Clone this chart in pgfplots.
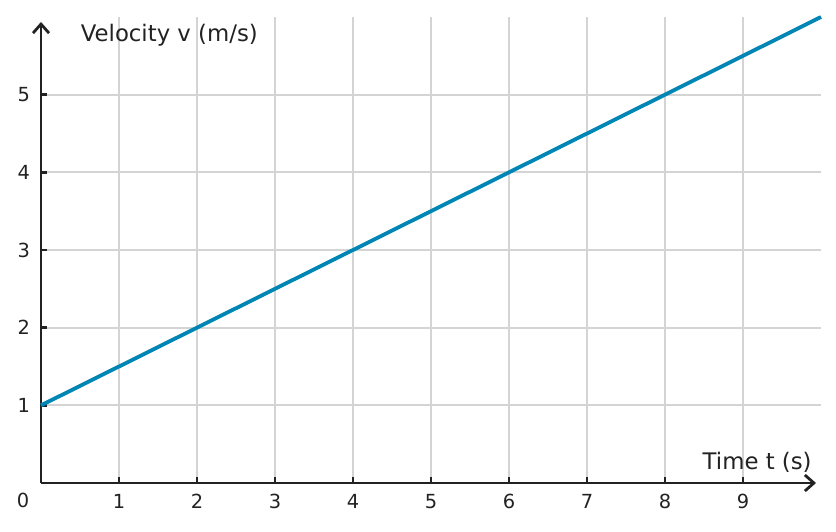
\documentclass[border=0pt]{standalone}
\usepackage{fontspec}
\setmainfont{DejaVu Sans}
\usepackage{pgfplots}
\pgfplotsset{compat=1.18}
\usetikzlibrary{arrows.meta}
\definecolor{lineblue}{RGB}{0,134,181}
\definecolor{gridgray}{RGB}{212,212,212}
\definecolor{axisdark}{RGB}{34,34,34}
\begin{document}
\begin{tikzpicture}
\useasboundingbox (-20.5bp,-24.5bp) rectangle (397.5bp,241.5bp);
\begin{axis}[
  at={(0,0)}, anchor=origin,
  scale only axis, width=390bp, height=233bp,
  xmin=0, xmax=10, ymin=0, ymax=6,
  axis lines=left,
  axis line style={axisdark, line width=1.3bp, shorten >=2.5bp, -{Straight Barb[length=4.5bp,width=8bp,line width=1.4bp]}},
  xtick={1,...,9}, ytick={1,...,5},
  grid=major,
  major grid style={gridgray, line width=0.9bp},
  tick align=inside,
  major tick length=3bp,
  tick style={axisdark, line width=1.2bp},
  every tick label/.append style={font=\fontsize{9.7bp}{11bp}\selectfont, text=axisdark},
  /pgf/number format/assume math mode=true,
  xticklabel style={yshift=-2bp},
  yticklabel style={xshift=-2bp},
  clip=false,
]
\addplot[lineblue, line width=1.9bp] coordinates {(0,1) (10,6)};
\node[anchor=west, font=\fontsize{11.4bp}{13bp}\selectfont, text=axisdark] at (axis cs:0.42,5.77) {Velocity v (m/s)};
\node[anchor=east, font=\fontsize{11.4bp}{13bp}\selectfont, text=axisdark] at (axis cs:9.97,0.27) {Time t (s)};
\node[font=\fontsize{9.7bp}{11bp}\selectfont, text=axisdark] at (axis cs:-0.23,-0.22) {0};
\end{axis}
\end{tikzpicture}
\end{document}
